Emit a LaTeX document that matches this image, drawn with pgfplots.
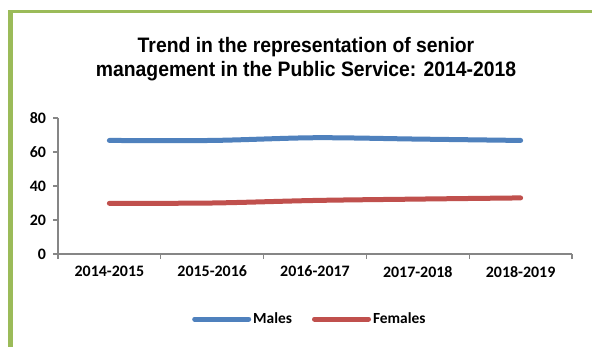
\documentclass[border=0pt]{standalone}
\usepackage{fontspec}
\setmainfont{Carlito}
\newfontfamily\titlefont{Liberation Sans}
\usepackage{pgfplots}
\pgfplotsset{compat=1.18}
\definecolor{frameg}{HTML}{9BBB59}
\definecolor{mblue}{HTML}{4F81BD}
\definecolor{fred}{HTML}{C0504D}
\definecolor{axgray}{HTML}{868686}
\begin{document}
\begin{tikzpicture}
\useasboundingbox (0,0) rectangle (592bp,347bp);
\fill[white] (0,0) rectangle (592bp,347bp);
\fill[frameg] (8bp,0) rectangle (13bp,337bp);
\fill[frameg] (8bp,334bp) rectangle (592bp,337bp);
\node[anchor=base, xscale=0.925, inner sep=0] at (306bp,294bp) {\titlefont\bfseries\fontsize{21}{25}\selectfont Trend in the representation of senior};
\node[anchor=base, xscale=0.925, inner sep=0] at (306bp,270bp) {\titlefont\bfseries\fontsize{21}{25}\selectfont management in the Public Service: 2014-2018};
\begin{axis}[
  at={(58bp,93bp)}, anchor=south west,
  scale only axis, width=514bp, height=136bp,
  xmin=0, xmax=5, ymin=0, ymax=80,
  axis lines*=left,
  axis line style={axgray, line width=1.3bp},
  every tick/.style={axgray, line width=1.3bp},
  tick align=outside,
  major tick length=4.5bp,
  xtick={0,1,2,3,4,5},
  xticklabels={2014-2015,2015-2016,2016-2017,2017-2018,2018-2019},
  x tick label as interval,
  ytick={0,20,40,60,80},
  ticklabel style={font=\bfseries\fontsize{16}{19}\selectfont, text=black},
  /pgf/number format/assume math mode=true,
  yticklabel style={xshift=-4bp},
  xticklabel style={yshift=-4bp},
  legend style={at={(rel axis cs:0.49,-0.478)}, anchor=center, draw=none, fill=none,
    legend columns=2, font=\bfseries\fontsize{15.5}{18}\selectfont,
    /tikz/every even column/.append style={column sep=18bp}},
  legend cell align=left,
  legend image code/.code={\draw[#1, line cap=round] (0bp,0bp) -- (54bp,0bp);},
]
\addplot[mblue, line width=5bp, smooth, line cap=round] coordinates {(0.5,66.8) (1.5,66.8) (2.5,68.4) (3.5,67.6) (4.5,66.8)};
\addlegendentry{Males}
\addplot[fred, line width=5bp, smooth, line cap=round] coordinates {(0.5,29.8) (1.5,30.0) (2.5,31.5) (3.5,32.3) (4.5,33.0)};
\addlegendentry{Females}
\end{axis}
\end{tikzpicture}
\end{document}
